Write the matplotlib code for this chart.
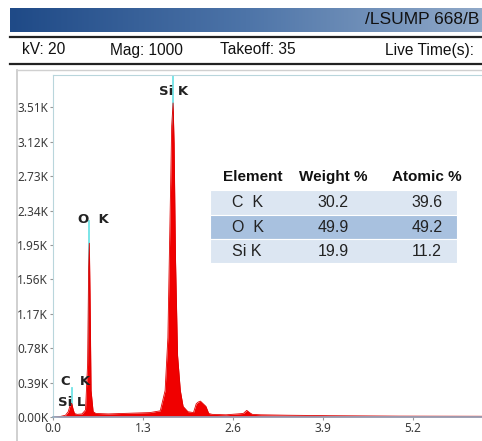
import numpy as np
import matplotlib
matplotlib.use('Agg')
import matplotlib.pyplot as plt
from matplotlib.lines import Line2D
from matplotlib.patches import Rectangle

plt.rcParams['font.family'] = ['Noto Sans', 'DejaVu Sans']

# spectrum (keV, counts)
energy_kev = [0.00, 0.10, 0.18, 0.22, 0.25, 0.27, 0.29, 0.31, 0.35, 0.42, 0.47, 0.50, 0.515, 0.525,
              0.535, 0.55, 0.58, 0.62, 0.80, 1.00, 1.20, 1.40, 1.55, 1.62, 1.66, 1.69, 1.715, 1.735,
              1.75, 1.77, 1.80, 1.84, 1.88, 1.95, 2.03, 2.07, 2.10, 2.13, 2.17, 2.21, 2.25, 2.30,
              2.50, 2.75, 2.80, 2.84, 2.88, 3.00, 3.40, 4.00, 5.00, 6.50]
counts = [0, 5, 20, 60, 140, 155, 90, 40, 30, 35, 80, 600, 1700, 1970, 1400, 300, 60, 40, 35, 40,
          45, 50, 70, 300, 900, 2200, 3300, 3560, 3100, 1800, 700, 300, 120, 60, 50, 150, 170,
          180, 150, 120, 40, 30, 25, 40, 75, 50, 30, 25, 20, 15, 10, 8]

peak_names = ['Si L', 'C K', 'O K', 'Si K']
peak_kev = [0.27, 0.277, 0.525, 1.74]
marker_top = [0, 330, 2220, 3880]

xticks = [0.0, 1.3, 2.6, 3.9, 5.2]
yticks = [0, 390, 780, 1170, 1560, 1950, 2340, 2730, 3120, 3510]
ytick_labels = ['0.00K', '0.39K', '0.78K', '1.17K', '1.56K', '1.95K', '2.34K', '2.73K', '3.12K', '3.51K']

header_items = ['kV: 20', 'Mag: 1000', 'Takeoff: 35', 'Live Time(s):']
header_x = [22, 110, 220, 385]
title_text = '/LSUMP 668/B'

table_cols = ['Element', 'Weight %', 'Atomic %']
elements = ['C  K', 'O  K', 'Si K']
weight_pct = ['30.2', '49.9', '19.9']
atomic_pct = ['39.6', '49.2', '11.2']

W, H = 482, 441
def fx(x):
    return x / W
def fy(y):
    return 1 - y / H

fig = plt.figure(figsize=(W / 100, H / 100), dpi=100)

# title band with gradient
band = fig.add_axes([fx(10), fy(32), fx(W - 10), (32 - 8) / H])
grad = np.linspace(0, 1, 256).reshape(1, -1)
cmap = matplotlib.colors.LinearSegmentedColormap.from_list('band', ['#1f4a87', '#4d74a8', '#90a9c8'])
band.imshow(grad, aspect='auto', cmap=cmap, extent=[0, 1, 0, 1])
band.axis('off')
fig.text(fx(479), fy(20), title_text, fontsize=12.5, va='center', ha='right', color='#111111',
         family='Liberation Sans')

fig.add_artist(Line2D([fx(10), 1], [fy(37), fy(37)], color='#222222', lw=1.6))
fig.add_artist(Line2D([fx(10), 1], [fy(64), fy(64)], color='#222222', lw=1.6))
for t, x in zip(header_items, header_x):
    fig.text(fx(x), fy(50), t, fontsize=11.2, va='center', ha='left', color='#111111',
             family='Liberation Sans')

# outer frame
fig.add_artist(Line2D([fx(17), fx(17)], [fy(70), 0], color='#c8c8c8', lw=1.2))
fig.add_artist(Line2D([fx(17), 1], [fy(70), fy(70)], color='#d0d0d0', lw=1.0))

# spectrum axes
ax = fig.add_axes([fx(53), fy(417), fx(W - 53), (417 - 75) / H])
ax.set_xlim(0, (W - 53) / 69.2)
ax.set_ylim(0, (417 - 75) / 34.4 * 390)

for name, e, top in zip(peak_names, peak_kev, marker_top):
    if top > 0:
        ax.plot([e, e], [0, top], color='#6fe3e6', lw=1.3, zorder=1)
ax.fill_between(energy_kev, counts, color='#f00000', lw=0, zorder=2)
ax.plot(energy_kev, counts, color='#e00000', lw=0.6, zorder=2)

# peak labels
lab = dict(ha='center', va='center', fontsize=9.5, color='#222222', fontweight='bold', family='DejaVu Sans')
ax.text(peak_kev[3], 3690, 'Si K', **lab)
ax.text(peak_kev[2] + 0.06, 2240, 'O  K', **lab)
ax.text(peak_kev[1] + 0.05, 400, 'C  K', **lab)
ax.text(peak_kev[0], 160, 'Si L', **lab)

ax.set_xticks(xticks)
ax.set_xticklabels(['%.1f' % v for v in xticks])
ax.set_yticks(yticks)
ax.set_yticklabels(ytick_labels)
ax.tick_params(axis='both', labelsize=8.5, colors='#999999', labelcolor='#3a3a3a', length=2, width=0.8, pad=1.5)
for s in ['top', 'left']:
    ax.spines[s].set_color('#b9d6dc')
ax.spines['bottom'].set_color('#8fa9c0')
ax.spines['bottom'].set_linewidth(1.2)
ax.spines['right'].set_visible(False)

# results table
row_top = [190, 215, 239]
row_bot = [215, 239, 263]
row_col = ['#dce6f2', '#a8c1df', '#dce6f2']
for t, b, c in zip(row_top, row_bot, row_col):
    fig.add_artist(Rectangle((fx(210), fy(b)), fx(457 - 210), (b - t) / H, transform=fig.transFigure,
                             facecolor=c, edgecolor='white', lw=0.8, zorder=5))
col_x = [253, 333, 427]
for t, x in zip(table_cols, col_x):
    fig.text(fx(x), fy(177), t, ha='center', va='center', fontsize=11, fontweight='bold',
             color='#111111', family='Liberation Sans', zorder=6)
for i in range(3):
    yc = fy((row_top[i] + row_bot[i]) / 2)
    fig.text(fx(232), yc, elements[i], ha='left', va='center', fontsize=11.5, color='#222222',
             family='Liberation Sans', zorder=6)
    fig.text(fx(col_x[1]), yc, weight_pct[i], ha='center', va='center', fontsize=11.5, color='#222222',
             family='Liberation Sans', zorder=6)
    fig.text(fx(col_x[2]), yc, atomic_pct[i], ha='center', va='center', fontsize=11.5, color='#222222',
             family='Liberation Sans', zorder=6)

fig.savefig('out.png', dpi=100)
